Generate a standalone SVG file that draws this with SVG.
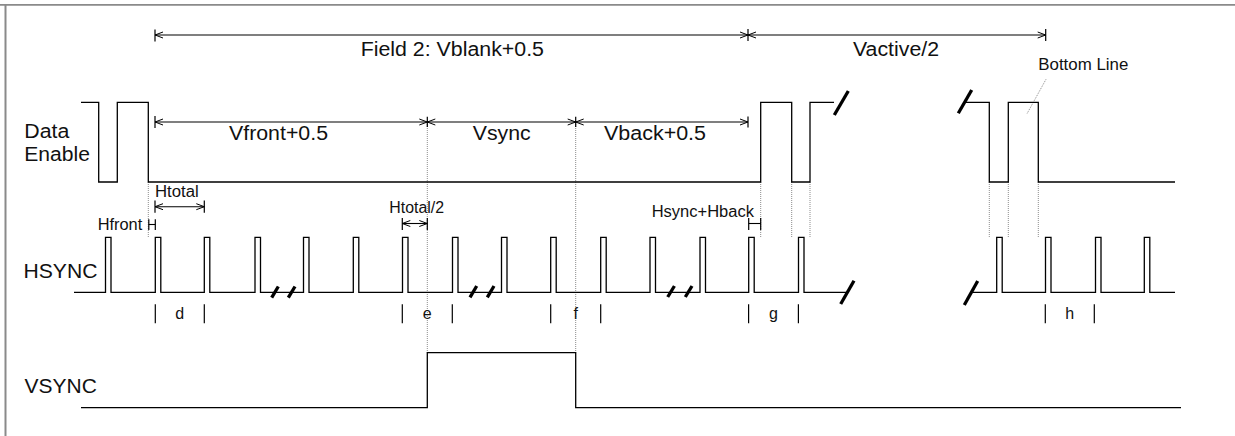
<svg xmlns="http://www.w3.org/2000/svg" width="1235" height="436" viewBox="0 0 1235 436">
<style>
.bg{fill:#ffffff}
.frame{stroke:#8a8a8a;fill:none}
.wave{stroke:#000;stroke-width:1.3;fill:none}
.dim{stroke:#000;stroke-width:1.1;fill:none}
.tick{stroke:#000;stroke-width:1.2;fill:none}
.guide{stroke:#8c8c8c;stroke-width:1;stroke-dasharray:1 1;fill:none}
.brk{stroke:#000;stroke-width:3.3;stroke-linecap:butt;fill:none}
.big{font-family:"Liberation Sans",Arial,sans-serif;font-size:20px;fill:#111}
.small{font-family:"Liberation Sans",Arial,sans-serif;font-size:16px;fill:#111}
.ctr{text-anchor:middle}
</style>
<defs>
<marker id="ah" viewBox="0 0 8 6" refX="8" refY="3" markerWidth="8" markerHeight="6" markerUnits="userSpaceOnUse" orient="auto-start-reverse" overflow="visible">
<path d="M0,0 L8,3 L0,6" fill="none" stroke="#000" stroke-width="1"/>
</marker>
</defs>
<rect class="bg" x="0" y="0" width="1235" height="436"/>
<g id="frame">
<line class="frame" x1="0" y1="4.8" x2="1235" y2="4.8" stroke-width="1.7"/>
<line class="frame" x1="5.5" y1="4" x2="5.5" y2="436" stroke-width="2"/>
</g>

<g id="labels">
<text class="big" x="24.3" y="137.5" textLength="45" lengthAdjust="spacingAndGlyphs">Data</text>
<text class="big" x="24.3" y="160.5" textLength="65.7" lengthAdjust="spacingAndGlyphs">Enable</text>
<text class="big" x="23.5" y="277.5" textLength="74" lengthAdjust="spacingAndGlyphs">HSYNC</text>
<text class="big" x="24.5" y="393" textLength="72.3" lengthAdjust="spacingAndGlyphs">VSYNC</text>
</g>

<g id="guides">
<line class="guide" x1="148.3" y1="182" x2="148.3" y2="237.3"/>
<line class="guide" x1="427.3" y1="122" x2="427.3" y2="352.7"/>
<line class="guide" x1="575.7" y1="122" x2="575.7" y2="352.7"/>
<line class="guide" x1="760.7" y1="182" x2="760.7" y2="237.3"/>
<line class="guide" x1="791.7" y1="182" x2="791.7" y2="237.3"/>
<line class="guide" x1="810" y1="182" x2="810" y2="237.3"/>
<line class="guide" x1="989.3" y1="182" x2="989.3" y2="237.3"/>
<line class="guide" x1="1008.3" y1="182" x2="1008.3" y2="237.3"/>
<line class="guide" x1="1038.3" y1="182" x2="1038.3" y2="237.3"/>
<line class="guide" x1="1046" y1="79.3" x2="1026.7" y2="114.3"/>
</g>

<g id="data-enable">
<path class="wave" d="M81,102.3 H98.7 V182 H117.3 V102.3 H148.3 V182 H760.7 V102.3 H791.7 V182 H810 V102.3 H834"/>
<path class="wave" d="M965,102.3 H989.3 V182 H1008.3 V102.3 H1038.3 V182 H1175"/>
<line class="brk" x1="834.3" y1="115" x2="848.3" y2="91"/>
<line class="brk" x1="958.3" y1="113.3" x2="971.7" y2="90"/>
</g>

<g id="hsync">
<path class="wave" d="M74,292.3 H105.5 V237.3 H111 V292.3 H155.3 V237.3 H160.8 V292.3 H204.3 V237.3 H209.8 V292.3 H255 V237.3 H260.5 V292.3 H303.5 V237.3 H309 V292.3 H353.3 V237.3 H358.8 V292.3 H402.5 V237.3 H408 V292.3 H452.5 V237.3 H458 V292.3 H501.5 V237.3 H507 V292.3 H550.7 V237.3 H556.2 V292.3 H600.7 V237.3 H606.2 V292.3 H650 V237.3 H655.5 V292.3 H700 V237.3 H705.5 V292.3 H748.7 V237.3 H754.2 V292.3 H798.5 V237.3 H804 V292.3 H846"/>
<path class="wave" d="M971,292.3 H996.7 V237.3 H1002.2 V292.3 H1045.5 V237.3 H1051 V292.3 H1095.5 V237.3 H1101 V292.3 H1144.3 V237.3 H1149.8 V292.3 H1175"/>
<line class="brk" x1="840.7" y1="304" x2="854" y2="280.7"/>
<line class="brk" x1="964.3" y1="305" x2="977.7" y2="281"/>
<line class="brk" x1="271.7" y1="297.7" x2="278.3" y2="286.5"/>
<line class="brk" x1="288.3" y1="297.7" x2="295" y2="286.5"/>
<line class="brk" x1="470" y1="297.3" x2="476.7" y2="286"/>
<line class="brk" x1="487.3" y1="297.3" x2="494" y2="286"/>
<line class="brk" x1="667.7" y1="297" x2="674.4" y2="286"/>
<line class="brk" x1="685.3" y1="297" x2="692" y2="286"/>
</g>

<g id="vsync">
<path class="wave" d="M81,407.7 H427.3 V352.7 H575.7 V407.7 H1181"/>
</g>

<g id="connectors">
<line class="dim" x1="155" y1="35" x2="748" y2="35" marker-start="url(#ah)" marker-end="url(#ah)"/>
<line class="dim" x1="748" y1="35" x2="1045.7" y2="35" marker-start="url(#ah)" marker-end="url(#ah)"/>
<line class="tick" x1="155" y1="29.5" x2="155" y2="41.5"/>
<line class="tick" x1="748" y1="29" x2="748" y2="41"/>
<line class="tick" x1="1045.7" y1="29" x2="1045.7" y2="41"/>
<line class="dim" x1="155" y1="122" x2="427.3" y2="122" marker-start="url(#ah)" marker-end="url(#ah)"/>
<line class="dim" x1="427.3" y1="122" x2="575.7" y2="122" marker-start="url(#ah)" marker-end="url(#ah)"/>
<line class="dim" x1="575.7" y1="122" x2="748" y2="122" marker-start="url(#ah)" marker-end="url(#ah)"/>
<line class="tick" x1="155" y1="116" x2="155" y2="128"/>
<line class="tick" x1="427.3" y1="116.7" x2="427.3" y2="127"/>
<line class="tick" x1="575.7" y1="116.7" x2="575.7" y2="127"/>
<line class="tick" x1="748" y1="116.5" x2="748" y2="127.5"/>
<line class="dim" x1="155" y1="206.7" x2="204.3" y2="206.7" marker-start="url(#ah)" marker-end="url(#ah)"/>
<line class="tick" x1="155" y1="200.5" x2="155" y2="212.7"/>
<line class="tick" x1="204.3" y1="200.5" x2="204.3" y2="212.7"/>
<line class="dim" x1="148.8" y1="224.5" x2="155.3" y2="224.5"/>
<line class="tick" x1="148.8" y1="219.3" x2="148.8" y2="230"/>
<line class="tick" x1="155.3" y1="219.3" x2="155.3" y2="230"/>
<line class="dim" x1="402.3" y1="223.5" x2="427.3" y2="223.5" marker-start="url(#ah)" marker-end="url(#ah)"/>
<line class="tick" x1="402.3" y1="218" x2="402.3" y2="230"/>
<line class="tick" x1="427.3" y1="218" x2="427.3" y2="230"/>
<line class="dim" x1="748.7" y1="223.5" x2="760.7" y2="223.5"/>
<line class="tick" x1="748.7" y1="218" x2="748.7" y2="230"/>
<line class="tick" x1="760.7" y1="218" x2="760.7" y2="230"/>
<line class="tick" x1="155.3" y1="304.3" x2="155.3" y2="323.3"/>
<line class="tick" x1="204.3" y1="304.3" x2="204.3" y2="323.3"/>
<line class="tick" x1="402.3" y1="304.3" x2="402.3" y2="323.3"/>
<line class="tick" x1="452.3" y1="304.3" x2="452.3" y2="323.3"/>
<line class="tick" x1="550.7" y1="304.3" x2="550.7" y2="323.3"/>
<line class="tick" x1="600.7" y1="304.3" x2="600.7" y2="323.3"/>
<line class="tick" x1="748.6" y1="304.3" x2="748.6" y2="323.3"/>
<line class="tick" x1="798.4" y1="304.3" x2="798.4" y2="323.3"/>
<line class="tick" x1="1045.3" y1="304.3" x2="1045.3" y2="323.3"/>
<line class="tick" x1="1094.3" y1="304.3" x2="1094.3" y2="323.3"/>
</g>

<g id="dimension-labels">
<text class="big" x="360.7" y="56" textLength="183.3" lengthAdjust="spacingAndGlyphs">Field 2: Vblank+0.5</text>
<text class="big" x="853" y="55.5" textLength="86" lengthAdjust="spacingAndGlyphs">Vactive/2</text>
<text class="big" x="229" y="140" textLength="99" lengthAdjust="spacingAndGlyphs">Vfront+0.5</text>
<text class="big" x="472.7" y="140" textLength="58" lengthAdjust="spacingAndGlyphs">Vsync</text>
<text class="big" x="604" y="140" textLength="102" lengthAdjust="spacingAndGlyphs">Vback+0.5</text>
<text class="small" x="155" y="196.7" textLength="43.7" lengthAdjust="spacingAndGlyphs">Htotal</text>
<text class="small" x="97.7" y="230" textLength="44.6" lengthAdjust="spacingAndGlyphs">Hfront</text>
<text class="small" x="389.3" y="213.3" textLength="54.7" lengthAdjust="spacingAndGlyphs">Htotal/2</text>
<text class="small" x="651.7" y="216.7" textLength="102.3" lengthAdjust="spacingAndGlyphs">Hsync+Hback</text>
<text class="small" x="1038.3" y="69.5" textLength="90" lengthAdjust="spacingAndGlyphs">Bottom Line</text>
<text class="small ctr" x="179.8" y="318.5">d</text>
<text class="small ctr" x="427.3" y="318.5">e</text>
<text class="small ctr" x="575.7" y="318.5">f</text>
<text class="small ctr" x="773.5" y="318.5">g</text>
<text class="small ctr" x="1069.8" y="318.5">h</text>
</g>
</svg>
